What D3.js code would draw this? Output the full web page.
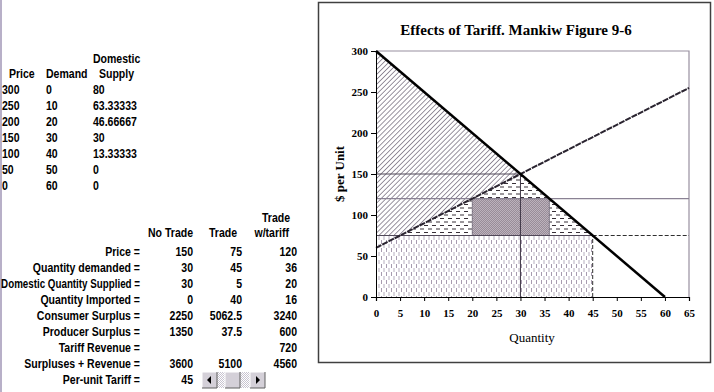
<!DOCTYPE html>
<html><head><meta charset="utf-8">
<script src="https://cdn.jsdelivr.net/npm/d3@7"></script>
<style>
html,body{margin:0;padding:0;background:#fff;}
svg{display:block;}
.tbl{font-family:"Liberation Sans",Arial,sans-serif;font-weight:bold;font-size:13px;fill:#000;}
.ax text{font-family:"Liberation Serif","Times New Roman",serif;font-weight:bold;font-size:11px;}
</style></head>
<body>
<script>
// ---- Data ----
const priceCol = ["300","250","200","150","100","50","0"];
const demandCol = ["0","10","20","30","40","50","60"];
const supplyCol = ["80","63.33333","46.66667","30","13.33333","0","0"];

const rowLabels = ["Price =","Quantity demanded =","Domestic Quantity Supplied =","Quantity Imported =","Consumer Surplus =","Producer Surplus =","Tariff Revenue =","Surpluses + Revenue =","Per-unit Tariff ="];
const noTrade = ["150","30","30","0","2250","1350","","3600","45"];
const trade = ["75","45","5","40","5062.5","37.5","","5100",""];
const tradeTariff = ["120","36","20","16","3240","600","720","4560",""];

const demandQ = [0, 60], demandP = [300, 0];
const supplyQ = [0, 65], supplyP = [60, 255];
const noTradeP = 150, worldP = 75, tariffP = 120;
const noTradeQ = 30, tradeQd = 45, tariffQd = 36, tariffQs = 20, tradeQs = 5;
const xTicks = d3.range(0, 70, 5);
const yTicks = [0, 50, 100, 150, 200, 250, 300];

// ---- Layout ----
const W = 714, H = 392;
const svg = d3.select("body").append("svg").attr("width", W).attr("height", H);
const defs = svg.append("defs");

// left page edge
svg.append("rect").attr("x",0).attr("y",0).attr("width",2).attr("height",H).attr("fill","#b8b0c8");

const SX = 0.81;
function txt(g, x, y, s, anchor, maxW){
  const t = g.append("text").attr("text-anchor", anchor || "start").text(s);
  let sx = SX;
  if (maxW) { const L = t.node().getComputedTextLength(); if (L*sx > maxW) sx = maxW / L; }
  t.attr("transform", `translate(${x},${y}) scale(${sx},1)`);
  return t;
}

// ---- Top table ----
const t1 = svg.append("g").attr("class","tbl");
txt(t1,93,63,"Domestic");
txt(t1,9,78,"Price");
txt(t1,46,78,"Demand");
txt(t1,99,78,"Supply");
priceCol.forEach((v,i)=>{
  const y = 93.5 + i*16;
  txt(t1,2,y,v);
  txt(t1,46,y,demandCol[i]);
  txt(t1,93,y,supplyCol[i]);
});

// ---- Bottom table ----
const t2 = svg.append("g").attr("class","tbl");
txt(t2,290,222,"Trade","end");
txt(t2,193,237,"No Trade","end");
txt(t2,237,237,"Trade","end");
txt(t2,289,237,"w/tariff","end");
rowLabels.forEach((lab,i)=>{
  const y = 255.5 + i*16;
  txt(t2,140,y,lab,"end",139);
  txt(t2,193,y,noTrade[i],"end");
  txt(t2,242,y,trade[i],"end");
  txt(t2,297,y,tradeTariff[i],"end");
});

// scrollbar control
const sb = svg.append("g");
const dith = defs.append("pattern").attr("id","dith").attr("width",2).attr("height",2).attr("patternUnits","userSpaceOnUse");
dith.append("rect").attr("width",2).attr("height",2).attr("fill","#fff");
dith.append("rect").attr("width",1).attr("height",1).attr("fill","#c8c4d0");
dith.append("rect").attr("x",1).attr("y",1).attr("width",1).attr("height",1).attr("fill","#c8c4d0");
sb.append("rect").attr("x",202).attr("y",372).attr("width",63).attr("height",16).attr("fill","url(#dith)");
function btn(x,w){
  sb.append("rect").attr("x",x).attr("y",372).attr("width",w).attr("height",16).attr("fill","#d4d0d8");
  sb.append("path").attr("d",`M${x},${388}V372H${x+w}`).attr("fill","none").attr("stroke","#fff");
  sb.append("path").attr("d",`M${x},388H${x+w}V372`).attr("fill","none").attr("stroke","#606060");
}
btn(202,15); btn(225,15); btn(250,15);
sb.append("path").attr("d","M211,376L207,380L211,384Z").attr("fill","#000");
sb.append("path").attr("d","M256,376L260,380L256,384Z").attr("fill","#000");

// ---- Chart box ----
svg.append("rect").attr("x",318.5).attr("y",2.5).attr("width",392).attr("height",360)
  .attr("fill","#fff").attr("stroke","#404040").attr("stroke-width",1.5);

const x = d3.scaleLinear().domain([0,65]).range([376,689]);
const y = d3.scaleLinear().domain([0,300]).range([297,51]);

// patterns
const hatch = defs.append("pattern").attr("id","hatch").attr("width",3.5).attr("height",3.5)
  .attr("patternUnits","userSpaceOnUse").attr("patternTransform","rotate(45)");
hatch.append("rect").attr("width",3.5).attr("height",3.5).attr("fill","#fff");
hatch.append("line").attr("x1",0).attr("y1",0).attr("x2",0).attr("y2",3.5).attr("stroke","#6e6678").attr("stroke-width",1.4);

const hdash = defs.append("pattern").attr("id","hdash").attr("width",8).attr("height",7).attr("patternUnits","userSpaceOnUse");
hdash.append("rect").attr("width",8).attr("height",7).attr("fill","#fff");
hdash.append("rect").attr("x",0).attr("y",1).attr("width",4).attr("height",1).attr("fill","#383038");
hdash.append("rect").attr("x",4).attr("y",4.5).attr("width",4).attr("height",1).attr("fill","#383038");

const vdash = defs.append("pattern").attr("id","vdash").attr("width",5).attr("height",8).attr("patternUnits","userSpaceOnUse");
vdash.append("rect").attr("width",5).attr("height",8).attr("fill","#fff");
vdash.append("rect").attr("x",1).attr("y",0).attr("width",1).attr("height",4).attr("fill","#a89cb0");
vdash.append("rect").attr("x",3.5).attr("y",4).attr("width",1).attr("height",4).attr("fill","#b8b0c0");

const check = defs.append("pattern").attr("id","check").attr("width",2).attr("height",2).attr("patternUnits","userSpaceOnUse");
check.append("rect").attr("width",2).attr("height",2).attr("fill","#988c98");
check.append("rect").attr("width",1).attr("height",1).attr("fill","#bcb2bc");
check.append("rect").attr("x",1).attr("y",1).attr("width",1).attr("height",1).attr("fill","#bcb2bc");

const area = d3.line().x(d=>x(d[0])).y(d=>y(d[1]));
const g = svg.append("g");

// dotted rectangle (world price region)
g.append("path").attr("d", area([[0,0],[tradeQd,0],[tradeQd,worldP],[0,worldP]])+"Z").attr("fill","url(#vdash)");
// hatched (surplus) polygon
g.append("path").attr("d", area([[0,demandP[0]],[noTradeQ,noTradeP],[tradeQs,worldP],[0,worldP]])+"Z").attr("fill","url(#hatch)");
// dashed triangle
g.append("path").attr("d", area([[tradeQs,worldP],[noTradeQ,noTradeP],[tradeQd,worldP]])+"Z").attr("fill","url(#hdash)");
// tariff revenue rect
g.append("path").attr("d", area([[tariffQs,worldP],[tariffQd,worldP],[tariffQd,tariffP],[tariffQs,tariffP]])+"Z")
  .attr("fill","url(#check)").attr("stroke","#706878").attr("stroke-width",0.8);

// plot border (top/right)
g.append("path").attr("d",`M${x(0)},${y(300)}H${x(65)}V${y(0)}`).attr("fill","none").attr("stroke","#9890a0").attr("stroke-width",1.2);

// reference lines
g.append("line").attr("x1",x(0)).attr("x2",x(65)).attr("y1",y(tariffP)).attr("y2",y(tariffP)).attr("stroke","#8a8294").attr("stroke-width",1.4);
g.append("line").attr("x1",x(0)).attr("x2",x(noTradeQ)).attr("y1",y(noTradeP)).attr("y2",y(noTradeP)).attr("stroke","#504858").attr("stroke-width",1);
g.append("line").attr("x1",x(noTradeQ)).attr("x2",x(noTradeQ)).attr("y1",y(0)).attr("y2",y(noTradeP)).attr("stroke","#403848").attr("stroke-width",1);
g.append("line").attr("x1",x(0)).attr("x2",x(tradeQd)).attr("y1",y(worldP)).attr("y2",y(worldP)).attr("stroke","#504858").attr("stroke-width",1);
g.append("line").attr("x1",x(tradeQd)).attr("x2",x(65)).attr("y1",y(worldP)).attr("y2",y(worldP)).attr("stroke","#303030").attr("stroke-width",1).attr("stroke-dasharray","4,2");
g.append("line").attr("x1",x(tradeQd)).attr("x2",x(tradeQd)).attr("y1",y(0)).attr("y2",y(worldP)).attr("stroke","#303030").attr("stroke-width",1).attr("stroke-dasharray","4,2");

// supply line
g.append("path").attr("d", area(supplyQ.map((q,i)=>[q,supplyP[i]]))).attr("fill","none")
  .attr("stroke","#2a2430").attr("stroke-width",2).attr("stroke-dasharray","6,1");
// demand line
g.append("path").attr("d", area(demandQ.map((q,i)=>[q,demandP[i]]))).attr("fill","none")
  .attr("stroke","#000").attr("stroke-width",2.5);

// axes
const ya = svg.append("g").attr("class","ax").attr("transform",`translate(${x(0)},0)`)
  .call(d3.axisLeft(y).tickValues(yTicks).tickSize(5).tickPadding(3));
ya.select(".domain").attr("stroke","#000");
const xa = svg.append("g").attr("class","ax").attr("transform",`translate(0,${y(0)})`)
  .call(d3.axisBottom(x).tickValues(xTicks).tickSize(4).tickPadding(8));
xa.select(".domain").attr("stroke","#000").attr("stroke-width",1.2);

// titles
svg.append("text").attr("x",516).attr("y",35).attr("text-anchor","middle")
  .style("font-family",'"Liberation Serif","Times New Roman",serif').style("font-weight","bold").style("font-size","15px")
  .text("Effects of Tariff. Mankiw Figure 9-6");
svg.append("text").attr("x",532).attr("y",342).attr("text-anchor","middle")
  .style("font-family",'"Liberation Serif","Times New Roman",serif').style("font-size","13px")
  .text("Quantity");
svg.append("text").attr("transform","translate(344,174) rotate(-90)").attr("text-anchor","middle")
  .style("font-family",'"Liberation Serif","Times New Roman",serif').style("font-weight","bold").style("font-size","13px")
  .text("$ per Unit");
</script>
</body></html>
